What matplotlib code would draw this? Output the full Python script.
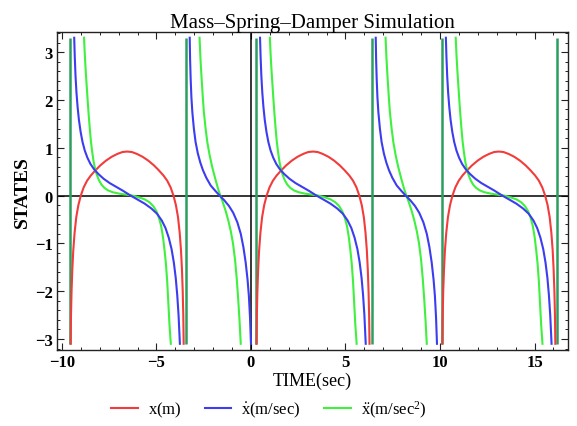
import matplotlib
matplotlib.use("Agg")
import matplotlib.pyplot as plt
from matplotlib.lines import Line2D
from matplotlib.ticker import MultipleLocator, FixedLocator
import numpy as np

plt.rcParams['font.family'] = ['Liberation Serif', 'DejaVu Serif']
plt.rcParams['mathtext.fontset'] = 'custom'
plt.rcParams['mathtext.rm'] = 'Liberation Serif'
plt.rcParams['mathtext.it'] = 'Liberation Serif'

# ---- data ----
title = "Mass\u2013Spring\u2013Damper Simulation"
xlabel = "TIME(sec)"
ylabel = "STATES"
legend_labels = [r"$\mathrm{x(m)}$", r"$\mathrm{\dot{x}(m/sec)}$", r"$\mathrm{\ddot{x}(m/sec^2)}$"]

# start times of the long (arch) and short branches, and the vertical jumps
long_starts = [-9.57, 0.26, 10.09]
short_starts = [-3.46, 6.38]
jump_times = [-9.57, -3.46, 0.26, 6.38, 10.09, 16.2]
jump_y = [-3.1, 3.3]

# x(m): arch, time relative to branch start
red_u = [0.03, 0.05, 0.08, 0.12, 0.17, 0.24, 0.33, 0.44, 0.57, 0.72, 0.90,
         1.10, 1.35, 1.60, 1.90, 2.20, 2.50, 2.77, 3.02, 3.27, 3.54, 3.84,
         4.14, 4.44, 4.69, 4.94, 5.14, 5.32, 5.47, 5.60, 5.71, 5.80, 5.87,
         5.92, 5.96, 5.99, 6.01]
red_y = [-3.1, -2.5, -2.0, -1.55, -1.15, -0.78, -0.45, -0.2, 0.0, 0.17, 0.31,
         0.42, 0.53, 0.63, 0.73, 0.81, 0.87, 0.91, 0.92, 0.91, 0.87, 0.81,
         0.73, 0.63, 0.53, 0.42, 0.31, 0.17, 0.0, -0.2, -0.45, -0.78, -1.15,
         -1.55, -2.0, -2.5, -3.1]

# x-dot: long branch
blue_long_u = [0.22, 0.25, 0.29, 0.34, 0.40, 0.47, 0.56, 0.66, 0.78, 0.92,
               1.08, 1.27, 1.50, 1.78, 2.10, 2.45, 2.80, 3.20, 3.60, 3.95,
               4.30, 4.60, 4.85, 5.05, 5.22, 5.37, 5.49, 5.59, 5.67, 5.74, 5.81]
blue_long_y = [3.3, 2.9, 2.5, 2.15, 1.85, 1.58, 1.33, 1.12, 0.94, 0.79,
               0.66, 0.55, 0.45, 0.35, 0.26, 0.18, 0.10, 0.0, -0.09, -0.17,
               -0.27, -0.38, -0.52, -0.68, -0.88, -1.12, -1.4, -1.72, -2.08, -2.5, -3.1]
# x-double-dot: long branch
green_long_u = [0.74, 0.78, 0.83, 0.88, 0.93, 0.98, 1.04, 1.10, 1.17, 1.25,
                1.33, 1.42, 1.53, 1.66, 1.82, 2.00, 2.25, 2.60, 2.95, 3.30,
                3.66, 3.95, 4.20, 4.40, 4.56, 4.70, 4.82, 4.92, 5.00, 5.07,
                5.14, 5.20, 5.26, 5.33]
green_long_y = [3.3, 2.95, 2.6, 2.3, 2.0, 1.72, 1.42, 1.15, 0.92, 0.70,
                0.55, 0.43, 0.32, 0.23, 0.16, 0.11, 0.07, 0.04, 0.02, 0.0,
                -0.04, -0.08, -0.14, -0.22, -0.32, -0.46, -0.64, -0.88, -1.15, -1.42,
                -1.8, -2.25, -2.7, -3.1]

# x-dot: short branch
blue_short_u = [0.22, 0.24, 0.27, 0.31, 0.36, 0.44, 0.53, 0.65, 0.78, 0.92,
                1.10, 1.33, 1.57, 1.80, 2.05, 2.30, 2.52, 2.74, 2.92, 3.06,
                3.18, 3.28, 3.35, 3.41, 3.46]
blue_short_y = [3.3, 2.85, 2.44, 2.05, 1.74, 1.4, 1.12, 0.88, 0.69, 0.53,
                0.37, 0.21, 0.10, 0.0, -0.10, -0.22, -0.36, -0.56, -0.8, -1.08,
                -1.4, -1.76, -2.1, -2.55, -3.1]
# x-double-dot: short branch
green_short_u = [0.74, 0.79, 0.85, 0.91, 0.97, 1.06, 1.15, 1.28, 1.42, 1.58,
                 1.72, 1.84, 1.97, 2.12, 2.26, 2.39, 2.51, 2.62, 2.71, 2.79,
                 2.86, 2.92]
green_short_y = [3.3, 2.85, 2.44, 2.07, 1.74, 1.4, 1.12, 0.83, 0.58, 0.34,
                 0.14, 0.0, -0.14, -0.32, -0.52, -0.74, -1.0, -1.35, -1.75, -2.2,
                 -2.65, -3.1]

x_major = 5
x_minor = 1
y_ticks = [-3, -2, -1, 0, 1, 2, 3]

# ---- styles ----
RED = '#f23c3c'
BLUE = '#3c3cf0'
GREEN = '#3ff03f'
TEAL = '#2c9f5e'
LW = 1.5

fig = plt.figure(figsize=(5.77, 4.27), dpi=100)
ax = fig.add_axes([57/577, 1-351/427, (568-57)/577, (351-33)/427])

for s in jump_times:
    ax.plot([s, s], jump_y, color=TEAL, lw=1.8, solid_capstyle='butt', zorder=3)

for s in long_starts:
    ax.plot(np.add(s, red_u), red_y, color=RED, lw=LW, zorder=4)
    ax.plot(np.add(s, green_long_u), green_long_y, color=GREEN, lw=LW, zorder=4)
    ax.plot(np.add(s, blue_long_u), blue_long_y, color=BLUE, lw=LW, zorder=5)

for s in short_starts:
    ax.plot(np.add(s, green_short_u), green_short_y, color=GREEN, lw=LW, zorder=4)
    ax.plot(np.add(s, blue_short_u), blue_short_y, color=BLUE, lw=LW, zorder=5)

ax.axhline(0, color='black', lw=1.1, zorder=2)
ax.axvline(0, color='black', lw=1.1, zorder=2)

ax.set_xlim(-10.26, 16.77)
ax.set_ylim(-3.23, 3.42)

ax.xaxis.set_major_locator(MultipleLocator(x_major))
ax.xaxis.set_minor_locator(MultipleLocator(x_minor))
ax.yaxis.set_major_locator(FixedLocator(y_ticks))
ax.yaxis.set_minor_locator(MultipleLocator(0.2))
ax.tick_params(which='both', direction='in', top=True, right=True, color='#222222')
ax.tick_params(which='major', length=5, width=0.8, labelsize=12, pad=3)
ax.tick_params(which='minor', length=2.5, width=0.7)
for lbl in ax.get_xticklabels() + ax.get_yticklabels():
    lbl.set_fontweight('bold')
for sp in ax.spines.values():
    sp.set_linewidth(1.0)
    sp.set_color('#222222')

ax.set_title(title, fontsize=15, pad=3)
ax.set_xlabel(xlabel, fontsize=13, labelpad=1)
ax.set_ylabel(ylabel, fontsize=14, fontweight='bold', labelpad=3)

handles = [Line2D([], [], color=c, lw=LW) for c in (RED, BLUE, GREEN)]
fig.legend(handles, legend_labels, loc='center', bbox_to_anchor=(269/577, 1-410/427),
           ncol=3, frameon=False, fontsize=12, handlelength=1.6, columnspacing=1.4,
           handletextpad=0.6)

fig.savefig('out.png', dpi=100)
